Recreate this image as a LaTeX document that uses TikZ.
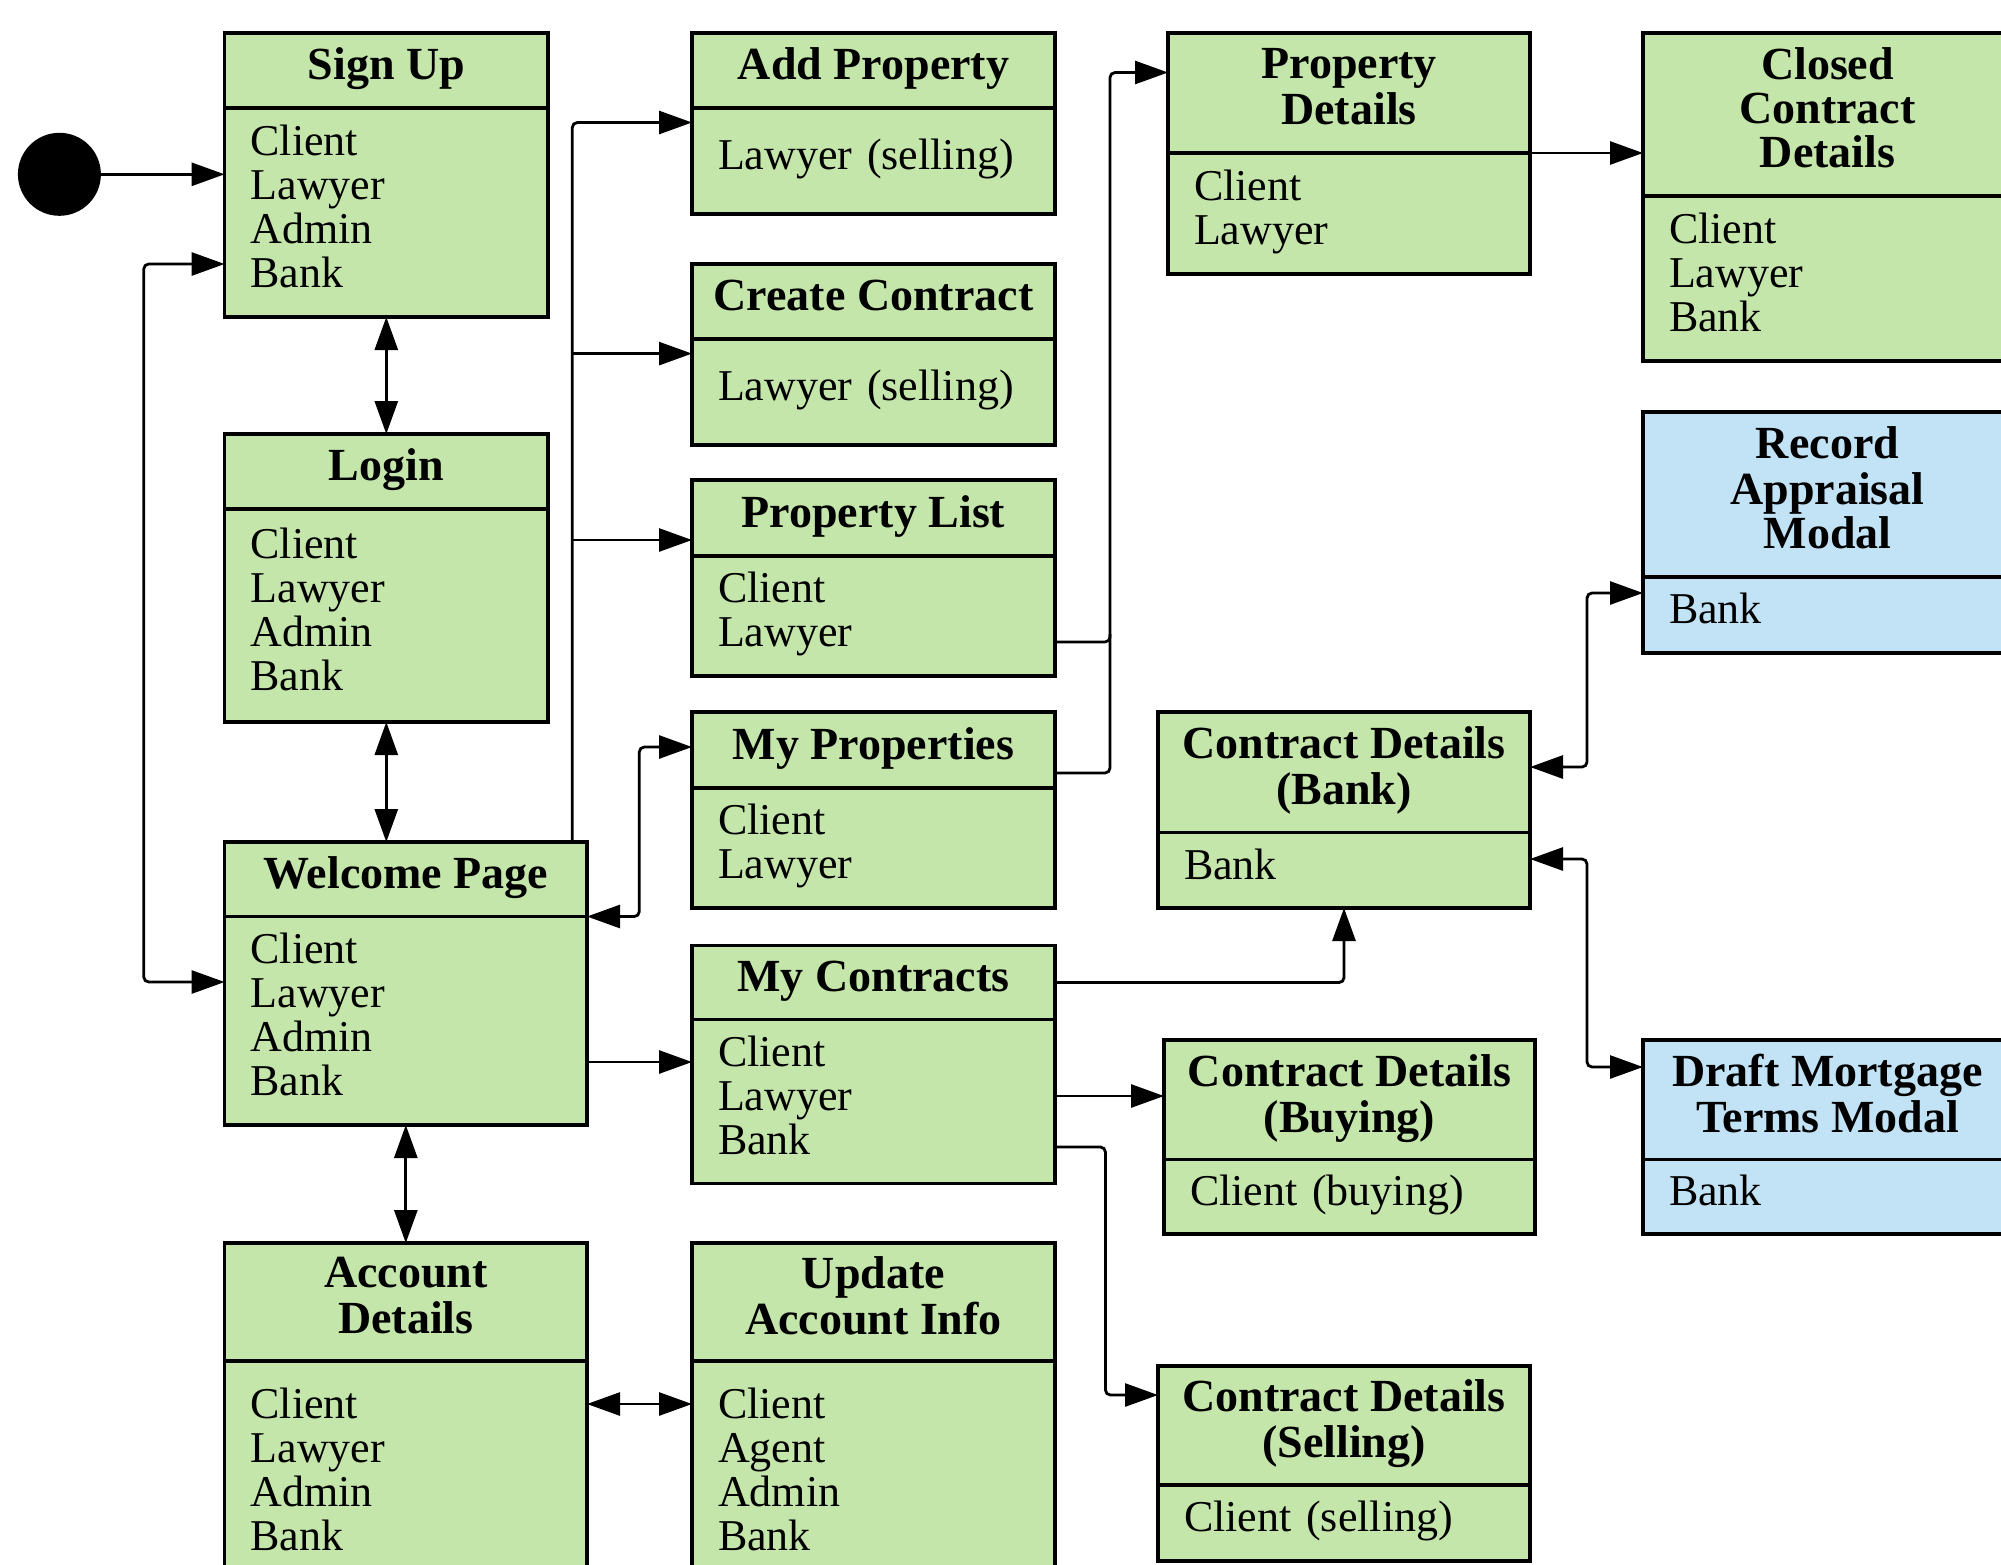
\documentclass[tikz,border=0pt]{standalone}
\usepackage{fontspec}
\setmainfont{Liberation Serif}
\usetikzlibrary{arrows.meta}
\definecolor{stgreen}{RGB}{197,230,171}
\definecolor{stblue}{RGB}{193,227,245}
\tikzset{
  hdr/.style={rectangle, draw=black, line width=3.2pt, inner sep=0pt, outer sep=0pt,
    align=center, font=\bfseries\fontsize{46}{44}\selectfont},
  bdy/.style={rectangle, draw=black, line width=3.2pt, inner xsep=26pt, inner ysep=0pt,
    outer sep=0pt, align=left, font=\fontsize{44}{44}\selectfont},
  conn/.style={line width=2.8pt, rounded corners=5pt},
  arr/.style={-{Triangle[length=33pt,width=23pt]}},
  darr/.style={{Triangle[length=33pt,width=23pt]}-{Triangle[length=33pt,width=23pt]}},
}
% name, left, top, divider, bottom, right, colour, title, body
\newcommand\stbox[9]{%
  \pgfmathsetmacro\stW{#6-#2}%
  \pgfmathsetmacro\stTW{#6-#2-52}%
  \pgfmathsetmacro\stHH{#4-#3}%
  \pgfmathsetmacro\stBH{#5-#4}%
  \node[hdr, fill=#7, minimum width=\stW pt, minimum height=\stHH pt, anchor=north west] (#1-h) at (#2,#3) {\strut #8\strut};
  \node[bdy, fill=#7, text width=\stTW pt, minimum height=\stBH pt, anchor=north west] (#1-b) at (#2,#4) {\strut #9\strut};
}
\begin{document}
\begin{tikzpicture}[x=1pt,y=-1pt]
\useasboundingbox (0,0) rectangle (2001,1564);
\clip (0,0) rectangle (2001,1564);

% column 1
\stbox{signup}{224.6}{33}{108}{317}{548}{stgreen}{Sign Up}{Client\\Lawyer\\Admin\\Bank}
\stbox{login}{224.6}{434}{509}{722}{548}{stgreen}{Login}{Client\\Lawyer\\Admin\\Bank}
\stbox{welcome}{224.6}{842}{916.5}{1125}{587}{stgreen}{Welcome Page}{Client\\Lawyer\\Admin\\Bank}
\stbox{account}{224.6}{1243}{1361}{1590}{587}{stgreen}{Account\\Details}{Client\\Lawyer\\Admin\\Bank}

% column 2
\stbox{addprop}{692}{33}{108}{214}{1055}{stgreen}{Add Property}{Lawyer (selling)}
\stbox{create}{692}{264}{339}{445}{1055}{stgreen}{Create Contract}{Lawyer (selling)}
\stbox{proplist}{692}{480}{556}{676}{1055}{stgreen}{Property List}{Client\\Lawyer}
\stbox{myprops}{692}{712}{788}{908}{1055}{stgreen}{My Properties}{Client\\Lawyer}
\stbox{mycontracts}{692}{945.5}{1019.6}{1183.4}{1055}{stgreen}{My Contracts}{Client\\Lawyer\\Bank}
\stbox{update}{692}{1243}{1361}{1590}{1055}{stgreen}{Update\\Account Info}{Client\\Agent\\Admin\\Bank}

% column 3
\stbox{propdetails}{1168}{33}{153}{274}{1530}{stgreen}{Property\\Details}{Client\\Lawyer}
\stbox{cdbank}{1158}{712}{832.5}{908}{1530}{stgreen}{Contract Details\\(Bank)}{Bank}
\stbox{cdbuying}{1164}{1040}{1159.5}{1234}{1535}{stgreen}{Contract Details\\(Buying)}{Client (buying)}
\stbox{cdselling}{1158}{1366}{1485}{1561}{1530}{stgreen}{Contract Details\\(Selling)}{Client (selling)}

% column 4
\stbox{closed}{1643}{33}{196}{361}{2012}{stgreen}{Closed\\Contract\\Details}{Client\\Lawyer\\Bank}
\stbox{record}{1643}{412}{577}{653}{2012}{stblue}{Record\\Appraisal\\Modal}{Bank}
\stbox{draft}{1643}{1040}{1159.5}{1234}{2012}{stblue}{Draft Mortgage\\Terms Modal}{Bank}

% initial state
\node[circle, fill=black, minimum size=83pt, inner sep=0pt] (init) at (59.4,174.3) {};

% connectors
\draw[conn,arr] (init) -- (init -| signup-b.west);
\draw[conn,darr] (signup-b.west |- 0,264) -- (143.75,264) -- (143.75,982) -- (welcome-b.west |- 0,982);
\draw[conn,darr] (signup-b.south) -- (login-h.north);
\draw[conn,darr] (login-b.south) -- (login-b.south |- welcome-h.north);
\draw[conn,darr] (welcome-b.south) -- (account-h.north);
\draw[conn,darr] (account-b.east |- 0,1404) -- (update-b.west |- 0,1404);

\coordinate (trunkA) at (572.3,353.6);
\coordinate (trunkB) at (572.3,540);
\draw[conn,arr] (welcome-h.north -| 572.3,0) -- (572.3,122.5) -- (addprop-b.west |- 0,122.5);
\draw[conn,arr] (trunkA) -- (trunkA -| create-b.west);
\draw[conn,arr] (trunkB) -- (trunkB -| proplist-h.west);

\draw[conn,darr] (welcome-h.south east) -- (639.3,916.5) -- (639.3,747) -- (myprops-h.west |- 0,747);
\draw[conn,arr] (welcome-b.east |- 0,1062) -- (mycontracts-b.west |- 0,1062);

\draw[conn] (proplist-b.east |- 0,642) -- (1110,642) -- (1110,634);
\draw[conn,arr] (myprops-h.east |- 0,773) -- (1110,773) -- (1110,72.5) -- (propdetails-h.west |- 0,72.5);
\draw[conn,arr] (propdetails-h.south east) -- (propdetails-h.south east -| closed-h.west);

\draw[conn,arr] (mycontracts-h.east) -| (cdbank-b.south);
\draw[conn,arr] (mycontracts-b.east |- 0,1096) -- (cdbuying-h.west |- 0,1096);
\draw[conn,arr] (mycontracts-b.east |- 0,1147) -- (1105.4,1147) -- (1105.4,1395) -- (cdselling-h.west |- 0,1395);

\draw[conn,darr] (cdbank-h.east |- 0,767) -- (1587,767) -- (1587,593) -- (record-b.west |- 0,593);
\draw[conn,darr] (cdbank-b.east |- 0,859) -- (1587,859) -- (1587,1067) -- (draft-h.west |- 0,1067);
\end{tikzpicture}
\end{document}
